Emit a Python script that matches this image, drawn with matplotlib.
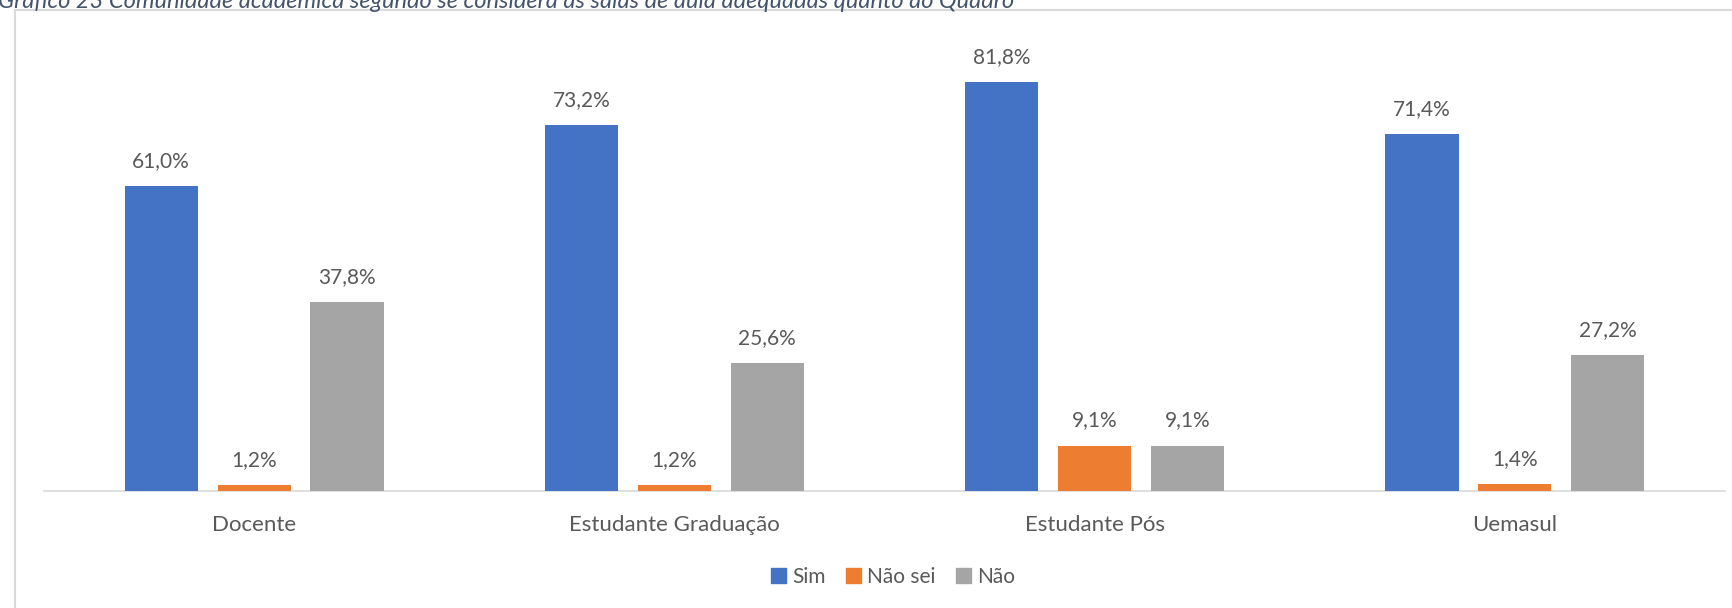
import matplotlib
matplotlib.use("Agg")
import matplotlib.pyplot as plt
import numpy as np
from matplotlib.lines import Line2D

categories = ["Docente", "Estudante Graduação", "Estudante Pós", "Uemasul"]
series_names = ["Sim", "Não sei", "Não"]
sim = [61.0, 73.2, 81.8, 71.4]
nao_sei = [1.2, 1.2, 9.1, 1.4]
nao = [37.8, 25.6, 9.1, 27.2]
colors = ["#4472C4", "#ED7D31", "#A5A5A5"]
title = "Gráfico 23 Comunidade acadêmica segundo se considera as salas de aula adequadas quanto ao Quadro"

W, H = 1733, 608
fig = plt.figure(figsize=(W / 100, H / 100), dpi=100)
fig.patch.set_facecolor("white")

ax = fig.add_axes([44 / W, (H - 491) / H, 1681 / W, 450 / H])
ax.set_facecolor("none")

x = np.arange(len(categories))
bw = 0.174
step = 0.221
text_color = "#595959"
for i, (vals, col, name) in enumerate(zip([sim, nao_sei, nao], colors, series_names)):
    pos = x + (i - 1) * step
    bars = ax.bar(pos, vals, width=bw, color=col, label=name, zorder=3)
    for b, v in zip(bars, vals):
        ax.annotate(f"{v:.1f}%".replace(".", ","),
                    xy=(b.get_x() + b.get_width() / 2, v),
                    xytext=(0, 11), textcoords="offset points",
                    ha="center", va="bottom", fontsize=15,
                    color=text_color, family="Lato")

ax.set_xlim(-0.5, 3.5)
ax.set_ylim(0, 90)
ax.set_yticks([])
for s in ["top", "right", "left"]:
    ax.spines[s].set_visible(False)
ax.spines["bottom"].set_color("#D9D9D9")
ax.spines["bottom"].set_linewidth(1.2)
ax.set_xticks(x)
ax.set_xticklabels(categories, fontsize=16, color=text_color, family="Lato")
ax.tick_params(axis="x", length=0, pad=17)

handles = [plt.Rectangle((0, 0), 1, 1, color=c) for c in colors]
fig.legend(handles, series_names, loc="center", bbox_to_anchor=(893 / W, (H - 577) / H),
           ncol=3, frameon=False, handlelength=0.7, handleheight=0.7,
           handletextpad=0.3, columnspacing=1.0, labelcolor=text_color,
           prop={"family": "Lato", "size": 15})

# chart border (light gray box, cut off at right and bottom)
fig.add_artist(Line2D([15 / W, 15 / W], [0, (H - 10) / H], color="#D9D9D9", lw=1.5,
                      transform=fig.transFigure))
fig.add_artist(Line2D([15 / W, 1], [(H - 10) / H, (H - 10) / H], color="#D9D9D9", lw=1.5,
                      transform=fig.transFigure))

fig.text(-2 / W, (H - 8) / H, title, ha="left", va="baseline", fontsize=17,
         style="italic", color="#44546A", family="Lato")

fig.savefig("out.png", dpi=100)
